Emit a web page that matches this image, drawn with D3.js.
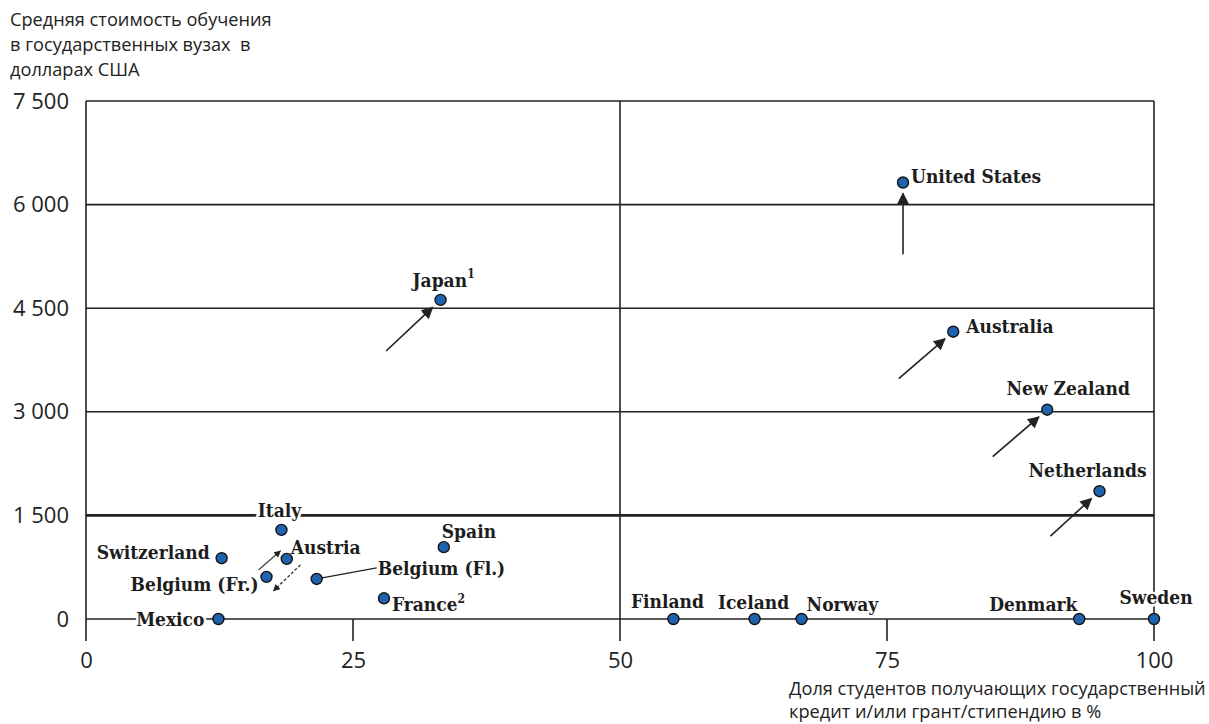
<!DOCTYPE html>
<html>
<head>
<meta charset="utf-8">
<script src="https://cdn.jsdelivr.net/npm/d3@7"></script>
<style>
    body { margin: 0; background: #fff; }
    svg { display: block; }
</style>
</head>
<body>
<div id="chart"></div>
<script>
const width = 1209;
const height = 724;

// data
const countries = ["United States", "Japan", "Australia", "New Zealand", "Netherlands", "Italy", "Switzerland",
    "Austria", "Belgium (Fr.)", "Belgium (Fl.)", "Spain", "France", "Mexico", "Finland", "Iceland", "Norway", "Denmark", "Sweden"];
const shareAided = [76.5, 33.2, 81.2, 90.0, 94.9, 18.3, 12.7, 18.8, 16.9, 21.6, 33.5, 27.9, 12.4, 55.0, 62.6, 67.0, 93.0, 100];
const tuition = [6320, 4620, 4160, 3030, 1850, 1290, 880, 870, 610, 580, 1040, 300, 0, 0, 0, 0, 0, 0];
const notes = {"Japan": "1", "France": "2"};

// arrows: where the country was before (in data units)
const arrowCountries = ["United States", "Japan", "Australia", "New Zealand", "Netherlands"];
const arrowFromX = [76.5, 28.1, 76.1, 84.9, 90.3];
const arrowFromY = [5280, 3880, 3480, 2350, 1200];

const xTicks = [0, 25, 50, 75, 100];
const yTicks = [0, 1500, 3000, 4500, 6000, 7500];

// label placement next to the dots (pixels)
const labelPos = {
    "United States": [8, -6, "start"],
    "Japan": [3, -20, "middle"],
    "Australia": [13, -5, "start"],
    "New Zealand": [21, -21, "middle"],
    "Netherlands": [-12, -21, "middle"],
    "Italy": [-2, -20, "middle"],
    "Switzerland": [-12, -6, "end"],
    "Austria": [4, -12, "start"],
    "Belgium (Fr.)": [-8, 7, "end"],
    "Belgium (Fl.)": [61, -11, "start"],
    "Spain": [-2, -16, "start"],
    "France": [8, 6, "start"],
    "Mexico": [-14, 0, "end"],
    "Finland": [-6, -18, "middle"],
    "Iceland": [-1, -17, "middle"],
    "Norway": [5, -15, "start"],
    "Denmark": [-46, -15, "middle"],
    "Sweden": [2, -22, "middle"]
};

const points = countries.map((c, i) => ({country: c, x: shareAided[i], y: tuition[i]}));

const x = d3.scaleLinear().domain([0, 100]).range([86, 1154]);
const y = d3.scaleLinear().domain([0, 7500]).range([619, 101]);
const bottom = 641;

const ru = d3.formatLocale({decimal: ",", thousands: "\u00a0", grouping: [3], currency: ["", ""]});
const fmt = ru.format(",");

const svg = d3.select("#chart").append("svg")
    .attr("width", width)
    .attr("height", height)
    .attr("viewBox", [0, 0, width, height]);

const defs = svg.append("defs");
[["arrow", 7], ["arrowBig", 12]].forEach(([id, size]) => {
    defs.append("marker")
        .attr("id", id)
        .attr("viewBox", "0 0 10 10")
        .attr("refX", 9).attr("refY", 5)
        .attr("markerWidth", size).attr("markerHeight", size)
        .attr("markerUnits", "userSpaceOnUse")
        .attr("orient", "auto")
        .append("path")
        .attr("d", "M0,0 L10,5 L0,10 Z")
        .attr("fill", "#222");
});

// horizontal grid lines
svg.append("g")
    .selectAll("line")
    .data(yTicks)
    .join("line")
    .attr("x1", x(0)).attr("x2", x(100))
    .attr("y1", d => y(d)).attr("y2", d => y(d))
    .attr("stroke", "#222")
    .attr("stroke-width", d => d === 1500 ? 2.6 : 1.6);

// vertical lines and ticks
svg.append("g")
    .selectAll("line")
    .data(xTicks)
    .join("line")
    .attr("x1", d => x(d)).attr("x2", d => x(d))
    .attr("y1", d => (d % 50 === 0) ? y(7500) : y(0))
    .attr("y2", bottom)
    .attr("stroke", "#222")
    .attr("stroke-width", 1.6);

// axis labels through d3 axes
const yAxis = svg.append("g")
    .attr("transform", `translate(${x(0) - 14},0)`)
    .call(d3.axisLeft(y).tickValues(yTicks).tickFormat(fmt).tickSize(0));
yAxis.select(".domain").remove();
yAxis.selectAll("text")
    .attr("font-family", "Open Sans, sans-serif")
    .attr("font-size", 22)
    .attr("fill", "#222");

const xAxis = svg.append("g")
    .attr("transform", `translate(0,${bottom + 8})`)
    .call(d3.axisBottom(x).tickValues(xTicks).tickSize(0));
xAxis.select(".domain").remove();
xAxis.selectAll("text")
    .attr("font-family", "Open Sans, sans-serif")
    .attr("font-size", 22)
    .attr("fill", "#222");

// axis titles
const yTitle = ["Средняя стоимость обучения", "в государственных вузах  в", "долларах США"];
svg.append("text")
    .attr("font-family", "Open Sans, sans-serif")
    .attr("font-size", 18.2)
    .attr("fill", "#222")
    .style("white-space", "pre")
    .selectAll("tspan")
    .data(yTitle)
    .join("tspan")
    .attr("x", 10)
    .attr("y", (d, i) => 26 + i * 25)
    .text(d => d);

const xTitle = ["Доля студентов получающих государственный", "кредит и/или грант/стипендию в %"];
svg.append("text")
    .attr("font-family", "Open Sans, sans-serif")
    .attr("font-size", 18.2)
    .attr("fill", "#222")
    .selectAll("tspan")
    .data(xTitle)
    .join("tspan")
    .attr("x", 789)
    .attr("y", (d, i) => 695 + i * 23)
    .text(d => d);

// arrows
const byName = {};
points.forEach(p => byName[p.country] = p);
const arrows = arrowCountries.map((c, i) => {
    const p = byName[c];
    const x1 = x(arrowFromX[i]), y1 = y(arrowFromY[i]);
    const dx = x(p.x) - x1, dy = y(p.y) - y1;
    const len = Math.hypot(dx, dy);
    return {x1, y1, x2: x(p.x) - dx / len * 11, y2: y(p.y) - dy / len * 11};
});
svg.append("g")
    .selectAll("line")
    .data(arrows)
    .join("line")
    .attr("x1", d => d.x1).attr("y1", d => d.y1)
    .attr("x2", d => d.x2).attr("y2", d => d.y2)
    .attr("stroke", "#222")
    .attr("stroke-width", 1.6)
    .attr("marker-end", "url(#arrowBig)");

// Belgium arrows: French community moved up, Flemish down (dashed)
const bfr = byName["Belgium (Fr.)"];
svg.append("line")
    .attr("x1", x(bfr.x) - 8).attr("y1", y(bfr.y) - 7)
    .attr("x2", x(bfr.x) + 14).attr("y2", y(bfr.y) - 26)
    .attr("stroke", "#222").attr("stroke-width", 1.2)
    .attr("marker-end", "url(#arrow)");
svg.append("line")
    .attr("x1", x(bfr.x) + 34).attr("y1", y(bfr.y) - 12)
    .attr("x2", x(bfr.x) + 7).attr("y2", y(bfr.y) + 14)
    .attr("stroke", "#222").attr("stroke-width", 1.2)
    .attr("stroke-dasharray", "3 2")
    .attr("marker-end", "url(#arrow)");

// leader line for Belgium (Fl.)
const bfl = byName["Belgium (Fl.)"];
svg.append("line")
    .attr("x1", x(bfl.x)).attr("y1", y(bfl.y))
    .attr("x2", x(bfl.x) + 60).attr("y2", y(bfl.y) - 11)
    .attr("stroke", "#222").attr("stroke-width", 1.3);

// labels
const label = svg.append("g")
    .attr("font-family", "DejaVu Serif Condensed, DejaVu Serif, serif")
    .attr("font-stretch", "condensed")
    .attr("font-weight", "bold")
    .attr("font-size", 19)
    .selectAll("text")
    .data(points)
    .join("text")
    .attr("x", d => x(d.x) + labelPos[d.country][0])
    .attr("y", d => y(d.y) + labelPos[d.country][1])
    .attr("dy", "0.35em")
    .attr("text-anchor", d => labelPos[d.country][2])
    .attr("fill", "#1d1d1d")
    .attr("stroke", "white")
    .attr("stroke-width", 5)
    .attr("stroke-linejoin", "round")
    .attr("paint-order", "stroke");
label.append("tspan").text(d => d.country);
label.filter(d => notes[d.country])
    .append("tspan")
    .attr("font-size", 12)
    .attr("dy", "-0.7em")
    .text(d => notes[d.country]);

// dots
svg.append("g")
    .selectAll("circle")
    .data(points)
    .join("circle")
    .attr("cx", d => x(d.x))
    .attr("cy", d => y(d.y))
    .attr("r", 5.5)
    .attr("fill", "#1f62ad")
    .attr("stroke", "#141414")
    .attr("stroke-width", 1.4);
</script>
</body>
</html>
